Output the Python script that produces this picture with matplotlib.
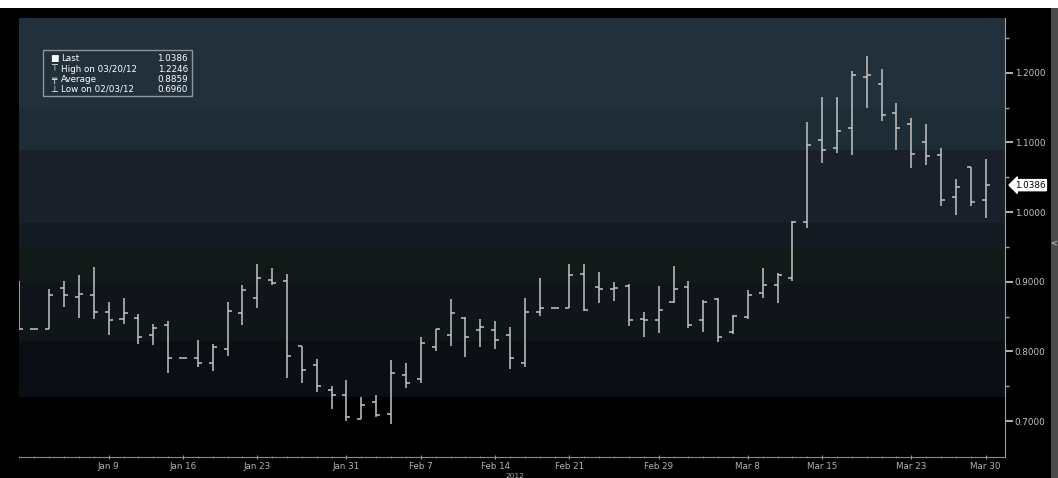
import numpy as np
import pandas as pd
import matplotlib
matplotlib.use("Agg")
from matplotlib import pyplot as plt
from matplotlib.patches import Rectangle
from matplotlib.ticker import FixedLocator, FormatStrFormatter
import matplotlib.transforms as mtransforms

# trading days shown on the chart (holidays drawn flat)
dates = pd.bdate_range("2011-12-30", "2012-03-30")

opens = [0.900, 0.832, 0.832, 0.891, 0.878, 0.881, 0.857, 0.846, 0.848, 0.824,
         0.838, 0.790, 0.790, 0.783, 0.803, 0.855, 0.877, 0.902, 0.901, 0.808,
         0.781, 0.744, 0.738, 0.703, 0.727, 0.710, 0.766, 0.761, 0.806, 0.824,
         0.848, 0.830, 0.831, 0.824, 0.783, 0.857, 0.862, 0.862, 0.911, 0.893,
         0.890, 0.894, 0.846, 0.845, 0.871, 0.893, 0.845, 0.875, 0.828, 0.850,
         0.884, 0.895, 0.906, 0.985, 1.104, 1.092, 1.120, 1.194, 1.184, 1.142,
         1.126, 1.101, 1.082, 1.022, 1.065, 1.017]
highs = [0.901, 0.832, 0.890, 0.901, 0.909, 0.921, 0.871, 0.877, 0.853, 0.840,
         0.843, 0.790, 0.817, 0.811, 0.871, 0.895, 0.926, 0.919, 0.911, 0.808,
         0.789, 0.750, 0.759, 0.735, 0.737, 0.788, 0.783, 0.821, 0.832, 0.875,
         0.850, 0.846, 0.844, 0.835, 0.876, 0.906, 0.862, 0.926, 0.925, 0.914,
         0.899, 0.896, 0.857, 0.894, 0.923, 0.901, 0.874, 0.876, 0.852, 0.888,
         0.919, 0.912, 0.987, 1.129, 1.165, 1.165, 1.202, 1.2246, 1.205, 1.157,
         1.135, 1.127, 1.092, 1.047, 1.065, 1.076]
lows = [0.832, 0.832, 0.832, 0.864, 0.848, 0.846, 0.824, 0.840, 0.811, 0.809,
        0.769, 0.790, 0.778, 0.772, 0.793, 0.838, 0.862, 0.895, 0.762, 0.755,
        0.742, 0.717, 0.700, 0.703, 0.706, 0.696, 0.747, 0.754, 0.800, 0.808,
        0.792, 0.807, 0.803, 0.774, 0.777, 0.851, 0.862, 0.862, 0.858, 0.870,
        0.873, 0.837, 0.821, 0.827, 0.870, 0.833, 0.828, 0.813, 0.825, 0.846,
        0.876, 0.869, 0.901, 0.977, 1.070, 1.085, 1.082, 1.149, 1.131, 1.089,
        1.063, 1.068, 1.009, 0.996, 1.008, 0.992]
closes = [0.832, 0.832, 0.881, 0.881, 0.883, 0.857, 0.845, 0.855, 0.820, 0.833,
          0.790, 0.790, 0.784, 0.806, 0.858, 0.888, 0.906, 0.898, 0.793, 0.773,
          0.751, 0.738, 0.706, 0.723, 0.709, 0.769, 0.755, 0.812, 0.832, 0.855,
          0.821, 0.835, 0.816, 0.790, 0.856, 0.862, 0.862, 0.909, 0.859, 0.889,
          0.891, 0.845, 0.845, 0.860, 0.889, 0.838, 0.871, 0.821, 0.851, 0.881,
          0.895, 0.909, 0.985, 1.096, 1.089, 1.116, 1.197, 1.197, 1.139, 1.121,
          1.084, 1.081, 1.017, 1.036, 1.015, 1.0386]

tick_dates = ["2012-01-09", "2012-01-16", "2012-01-23", "2012-01-31", "2012-02-07",
              "2012-02-14", "2012-02-21", "2012-02-29", "2012-03-08", "2012-03-15",
              "2012-03-23", "2012-03-30"]
tick_labels = ["Jan 9", "Jan 16", "Jan 23", "Jan 31", "Feb 7", "Feb 14", "Feb 21",
               "Feb 29", "Mar 8", "Mar 15", "Mar 23", "Mar 30"]

# background bands (bottom value, top value, colour)
band_edges = [0.7345, 0.815, 0.848, 0.898, 0.948, 0.984, 1.089, 1.149, 1.30]
band_colors = ["#0c0e16", "#0f1617", "#12141c", "#111a19", "#141a22",
               "#1a2029", "#1e2c35", "#21303a"]

last_val = 1.0386
W, H = 1058, 478

fig = plt.figure(figsize=(W / 100, H / 100), dpi=100)
fig.patch.set_facecolor("black")
ax = fig.add_axes([19 / W, 1 - 457 / H, (1005 - 19) / W, (457 - 18) / H])
ax.set_facecolor("black")

for b0, b1, c in zip(band_edges[:-1], band_edges[1:], band_colors):
    ax.axhspan(b0, b1, color=c, lw=0, zorder=0)

x = np.arange(len(dates))
bar_col = "#c4c4c4"
tk = 0.27
ax.vlines(x, lows, highs, color=bar_col, lw=1.1, zorder=3)
ax.hlines(opens, x - tk, x, color=bar_col, lw=1.1, zorder=3)
ax.hlines(closes, x, x + tk, color=bar_col, lw=1.1, zorder=3)

ax.set_xlim(-0.03, 66.3)
ax.set_ylim(0.6484, 1.2785)

# y axis on the right
ax.yaxis.tick_right()
ax.yaxis.set_major_locator(FixedLocator([0.7, 0.8, 0.9, 1.0, 1.1, 1.2]))
ax.yaxis.set_minor_locator(FixedLocator([0.75, 0.85, 0.95, 1.05, 1.15, 1.25]))
ax.yaxis.set_major_formatter(FormatStrFormatter("%.4f"))
ax.tick_params(axis="y", which="major", length=6, width=1.2, color="#d0d0d0",
               labelsize=6.3, labelcolor="#c4c4c4", pad=1)
ax.tick_params(axis="y", which="minor", length=3, width=1, color="#a0a0a0")

# x axis
pos = {d.strftime("%Y-%m-%d"): i for i, d in enumerate(dates)}
ax.set_xticks([pos[d] for d in tick_dates])
ax.set_xticklabels(tick_labels)
ax.set_xticks(x, minor=True)
ax.tick_params(axis="x", which="major", length=3, direction="inout", color="#a0a0a0",
               labelsize=6.3, labelcolor="#b4b4b4", pad=2)
ax.tick_params(axis="x", which="minor", length=2, direction="inout", color="#808080")
ax.text(pos["2012-02-15"] + 0.3, -0.0365, "2012",
        transform=mtransforms.blended_transform_factory(ax.transData, ax.transAxes),
        ha="center", va="top", fontsize=5.3, color="#a8a8a8")

for s in ["top", "left"]:
    ax.spines[s].set_visible(False)
ax.spines["right"].set_color("#9aa2a8")
ax.spines["bottom"].set_color("#8a8a8a")

# last price tag
trans = mtransforms.blended_transform_factory(ax.transAxes, ax.transData)
ax.text(1.01, last_val, "%.4f" % last_val, transform=trans, ha="left", va="center",
        fontsize=6.3, color="black",
        bbox=dict(boxstyle="larrow,pad=0.12", fc="white", ec="white"))

# legend box
def fx(px):
    return px / W

def fy(py):
    return 1 - py / H

fig.add_artist(Rectangle((fx(43), fy(96)), fx(192) - fx(43), fy(50) - fy(96),
                         transform=fig.transFigure, fill=False, ec="#8e969c", lw=1))
rows = [("\u25A0", "Last", "1.0386"),
        ("\u22A4", "High on 03/20/12", "1.2246"),
        ("\u2564", "Average", "0.8859"),
        ("\u22A5", "Low on 02/03/12", "0.6960")]
row_y = [58.3, 69, 79.3, 89.3]
for (sym, lab, val), py in zip(rows, row_y):
    fig.text(fx(54), fy(py), sym, ha="center", va="center", fontsize=6.5, color="white")
    fig.text(fx(61), fy(py), lab, ha="left", va="center", fontsize=6.3, color="white")
    fig.text(fx(188), fy(py), val, ha="right", va="center", fontsize=6.3, color="white")

# frame strips of the screenshot
fig.add_artist(Rectangle((0, fy(8)), 1, 8 / H, transform=fig.transFigure,
                         color="white", lw=0))
fig.add_artist(Rectangle((fx(1051), 0), 7 / W, fy(8), transform=fig.transFigure,
                         color="#4c4c4c", lw=0))
fig.text(fx(1054), fy(243), "<", ha="center", va="center", fontsize=6, color="#d0d0d0")

fig.savefig("out.png", dpi=100, facecolor=fig.get_facecolor())
